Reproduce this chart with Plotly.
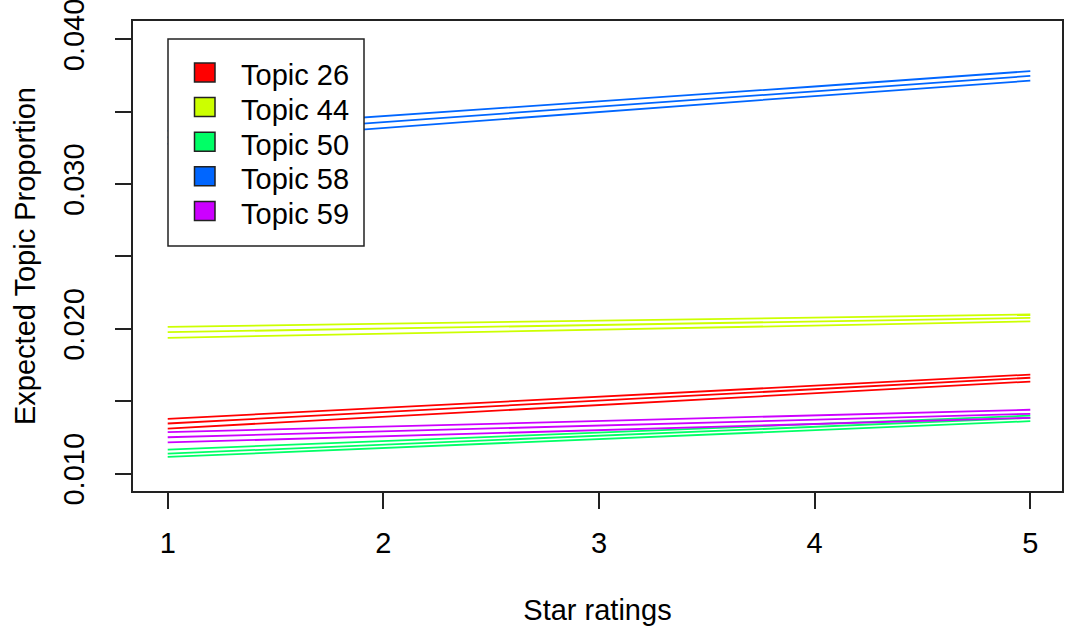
import plotly.graph_objects as go

# Covariate values (star ratings) at which the topic proportions are evaluated
stars = [1, 2, 3, 4, 5]

topics = ["Topic 26", "Topic 44", "Topic 50", "Topic 58", "Topic 59"]
colors = ["#FF0000", "#CCFF00", "#00FF66", "#0066FF", "#CC00FF"]

# Expected topic proportion: point estimate with lower / upper confidence bounds
mean_26 = [0.01346, 0.01425, 0.01504, 0.01583, 0.01662]
lower_26 = [0.01311, 0.01392, 0.01474, 0.01555, 0.01636]
upper_26 = [0.01378, 0.01455, 0.01531, 0.01608, 0.01684]

mean_44 = [0.01977, 0.02002, 0.02026, 0.02051, 0.02076]
lower_44 = [0.01938, 0.01966, 0.01994, 0.02023, 0.02051]
upper_44 = [0.02014, 0.02035, 0.02056, 0.02078, 0.02099]

mean_50 = [0.01138, 0.01200, 0.01262, 0.01323, 0.01385]
lower_50 = [0.01115, 0.01177, 0.01239, 0.01300, 0.01362]
upper_50 = [0.01166, 0.01225, 0.01284, 0.01342, 0.01401]

mean_58 = [0.03322, 0.03428, 0.03534, 0.03641, 0.03747]
lower_58 = [0.03277, 0.03388, 0.03499, 0.03608, 0.03714]
upper_58 = [0.03367, 0.03468, 0.03569, 0.03674, 0.03780]

mean_59 = [0.01251, 0.01292, 0.01332, 0.01373, 0.01413]
lower_59 = [0.01215, 0.01258, 0.01300, 0.01343, 0.01385]
upper_59 = [0.01286, 0.01325, 0.01364, 0.01402, 0.01441]

series = [
    (mean_26, lower_26, upper_26),
    (mean_44, lower_44, upper_44),
    (mean_50, lower_50, upper_50),
    (mean_58, lower_58, upper_58),
    (mean_59, lower_59, upper_59),
]

y_ticks = [0.010, 0.015, 0.020, 0.025, 0.030, 0.035, 0.040]
y_tick_text = ["0.010", "", "0.020", "", "0.030", "", "0.040"]
x_ticks = [1, 2, 3, 4, 5]
x_tick_text = ["1", "2", "3", "4", "5"]

FONT = "Liberation Sans, Arial, sans-serif"
FS = 29
INK = "#222222"
W, H = 1065, 627
ML, MR, MT, MB = 133, 3, 21, 136

fig = go.Figure()
for name, col, (m, lo, hi) in zip(topics, colors, series):
    for vals in (hi, m, lo):
        fig.add_trace(go.Scatter(
            x=stars, y=vals, mode="lines", name=name,
            line=dict(color=col, width=1.8),
            showlegend=False, hoverinfo="skip",
        ))


def px_x(p):
    return (p - ML) / (W - ML - MR)


def px_y(p):
    return (H - MB - p) / (H - MT - MB)


# Legend box with filled squares and labels
shapes = [dict(type="rect", xref="paper", yref="paper",
               x0=px_x(168), x1=px_x(364), y0=px_y(246), y1=px_y(39),
               line=dict(color=INK, width=1.5), fillcolor="white", layer="above")]
annotations = []
row0, step = 72.5, 34.6
for i, (name, col) in enumerate(zip(topics, colors)):
    cy = row0 + i * step
    shapes.append(dict(type="rect", xref="paper", yref="paper",
                       x0=px_x(194.5), x1=px_x(215), y0=px_y(cy + 9.5), y1=px_y(cy - 9.5),
                       line=dict(color=INK, width=1.5), fillcolor=col, layer="above"))
    annotations.append(dict(xref="paper", yref="paper", x=px_x(239), y=px_y(cy + 3),
                            xanchor="left", yanchor="middle", showarrow=False,
                            text=name, font=dict(family=FONT, size=FS, color="black")))

fig.update_layout(
    width=W, height=H,
    margin=dict(l=ML, r=MR, t=MT, b=MB, autoexpand=False),
    paper_bgcolor="white", plot_bgcolor="white",
    font=dict(family=FONT, size=FS, color="black"),
    shapes=shapes, annotations=annotations,
    xaxis=dict(
        range=[0.839, 5.147], tickvals=x_ticks, ticktext=x_tick_text,
        showgrid=False, zeroline=False, showline=True, mirror=True,
        linecolor=INK, linewidth=1.5, ticks="outside", ticklen=16,
        tickwidth=1.5, tickcolor=INK, ticklabelstandoff=9,
        ticklabeloverflow="allow",
        tickfont=dict(family=FONT, size=FS, color="black"),
        title=dict(text="Star ratings", standoff=42,
                   font=dict(family=FONT, size=FS, color="black")),
    ),
    yaxis=dict(
        range=[0.008798, 0.041264], tickvals=y_ticks, ticktext=y_tick_text,
        showgrid=False, zeroline=False, showline=True, mirror=True,
        linecolor=INK, linewidth=1.5, ticks="outside", ticklen=16,
        tickwidth=1.5, tickcolor=INK, tickangle=-90, ticklabelstandoff=20,
        ticklabeloverflow="allow",
        tickfont=dict(family=FONT, size=FS, color="black"),
        title=dict(text="Expected Topic Proportion", standoff=14,
                   font=dict(family=FONT, size=FS, color="black")),
    ),
)

fig.write_html("out.html")
